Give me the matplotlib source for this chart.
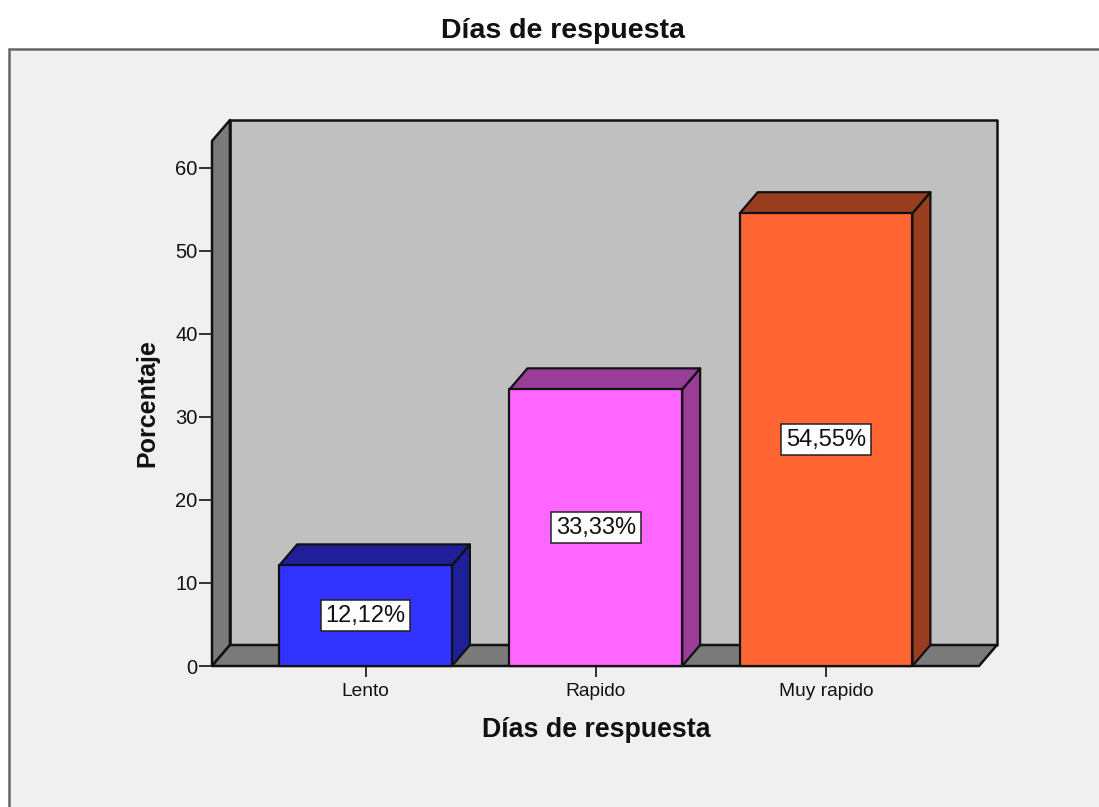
#!/usr/bin/env python3
from __future__ import annotations

import matplotlib

matplotlib.use("Agg")
import matplotlib.pyplot as plt
from matplotlib.patches import Polygon, Rectangle

categories = ["Lento", "Rapido", "Muy rapido"]
percentages = [12.12, 33.33, 54.55]
value_labels = ["12,12%", "33,33%", "54,55%"]
y_ticks = [0, 10, 20, 30, 40, 50, 60]

FRONT_COLORS = ["#3333ff", "#ff66ff", "#ff6633"]
DEPTH_COLORS = ["#1f1f99", "#993d99", "#993d1f"]

WIDTH_PX, HEIGHT_PX = 1099, 807
BAR_WIDTH = 0.75
DX, DY = 0.078, 2.53  # 3d offset in data units
XLIM = (-0.667, 2.664)
YLIM = (0, 63.25)


def prism(ax, x0, x1, top, front, depth):
    edge = dict(edgecolor="#111111", linewidth=1.6, joinstyle="round", clip_on=False)
    ax.add_patch(Polygon([(x1, 0), (x1 + DX, DY), (x1 + DX, top + DY), (x1, top)],
                         facecolor=depth, zorder=3, **edge))
    ax.add_patch(Polygon([(x0, top), (x0 + DX, top + DY), (x1 + DX, top + DY), (x1, top)],
                         facecolor=depth, zorder=3, **edge))
    ax.add_patch(Rectangle((x0, 0), x1 - x0, top, facecolor=front, zorder=4, **edge))


def main() -> None:
    plt.rcParams["font.family"] = ["Liberation Sans", "DejaVu Sans"]
    fig = plt.figure(figsize=(WIDTH_PX / 100, HEIGHT_PX / 100), dpi=100, facecolor="white")

    # grey panel with a frame on the top and left only
    fig.add_artist(Rectangle((9 / WIDTH_PX, -0.01), 1.01, 1.01 - 49 / HEIGHT_PX,
                             transform=fig.transFigure, facecolor="#f0f0f0",
                             edgecolor="#666666", linewidth=1.8, zorder=-1))

    ax = fig.add_axes([212 / WIDTH_PX, 1 - 666 / HEIGHT_PX, 767 / WIDTH_PX, 525 / HEIGHT_PX])
    ax.set_xlim(*XLIM)
    ax.set_ylim(*YLIM)
    ax.patch.set_visible(False)
    for spine in ax.spines.values():
        spine.set_visible(False)

    x0, x1 = XLIM
    top = YLIM[1]
    wall = dict(edgecolor="#111111", linewidth=1.8, joinstyle="round", clip_on=False, zorder=1)
    ax.add_patch(Polygon([(x0 + DX, DY), (x1 + DX, DY), (x1 + DX, top + DY), (x0 + DX, top + DY)],
                         facecolor="#c0c0c0", **wall))
    ax.add_patch(Polygon([(x0, 0), (x0 + DX, DY), (x0 + DX, top + DY), (x0, top)],
                         facecolor="#7a7a7a", **wall))
    ax.add_patch(Polygon([(x0, 0), (x0 + DX, DY), (x1 + DX, DY), (x1, 0)],
                         facecolor="#7a7a7a", **wall))

    for i, value in enumerate(percentages):
        left = i - BAR_WIDTH / 2
        prism(ax, left, left + BAR_WIDTH, value, FRONT_COLORS[i], DEPTH_COLORS[i])
        ax.text(i, value / 2, value_labels[i], ha="center", va="center", fontsize=17,
                color="#111111", zorder=6,
                bbox=dict(boxstyle="square,pad=0.2", facecolor="white",
                          edgecolor="#222222", linewidth=1.1))

    ax.set_xticks(range(len(categories)), categories)
    ax.set_yticks(y_ticks)
    ax.tick_params(axis="x", length=8, width=1.3, color="#222222", labelsize=13.8,
                   labelcolor="#111111", pad=4)
    ax.tick_params(axis="y", length=9.5, width=1.3, color="#222222", labelsize=14.5,
                   labelcolor="#111111", pad=1)

    ax.set_xlabel("Días de respuesta", fontsize=19.3, fontweight="bold", labelpad=12.5,
                  color="#111111")
    ax.xaxis.label.set_x((596 - 212) / 767)
    ax.set_ylabel("Porcentaje", fontsize=18, fontweight="bold", labelpad=11, color="#111111")
    ax.yaxis.label.set_y((666 - 403.5) / 525)
    fig.text(563 / WIDTH_PX, 1 - 31 / HEIGHT_PX, "Días de respuesta", ha="center", va="center",
             fontsize=20.5, fontweight="bold", color="#111111")

    fig.savefig("out.png", dpi=100, facecolor="white")
    plt.close(fig)


if __name__ == "__main__":
    main()
